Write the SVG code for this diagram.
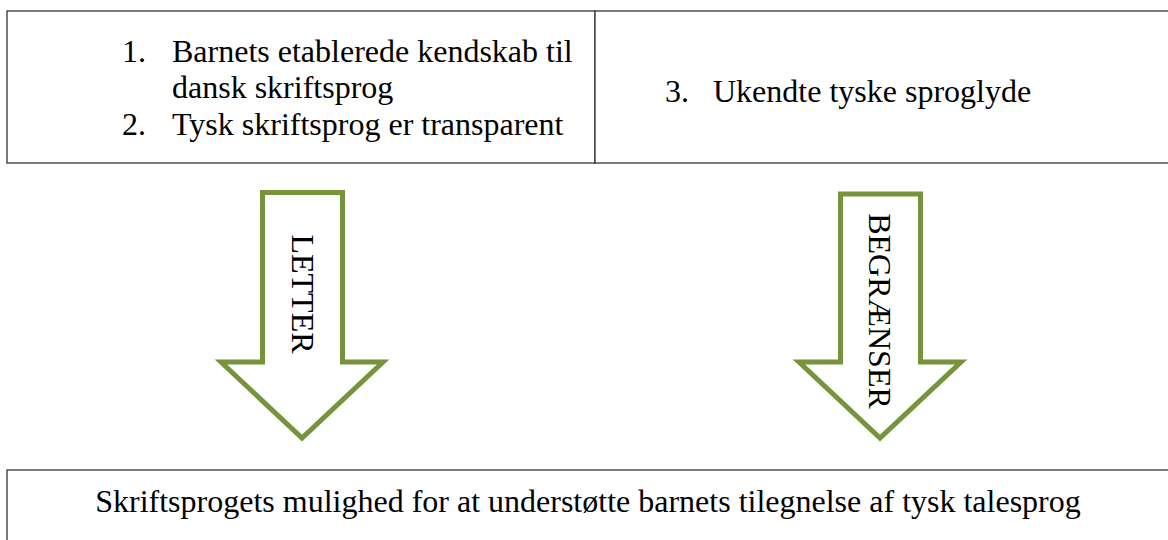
<svg xmlns="http://www.w3.org/2000/svg" width="1168" height="540" viewBox="0 0 1168 540">
<style>
.t{font-family:'Liberation Serif','DejaVu Serif',serif;font-size:32px;fill:#000}
.box{fill:#fff;stroke:#333;stroke-width:1.3}
.arrow{fill:#fff;stroke:#77933C;stroke-width:5;stroke-linejoin:miter}
</style>
<rect width="1168" height="540" fill="#fff"/>
<g id="box-left">
<rect class="box" x="7" y="11" width="588" height="152"/>
<text class="t" x="122" y="62">1.</text>
<text class="t" x="172" y="62">Barnets etablerede kendskab til</text>
<text class="t" x="172" y="98">dansk skriftsprog</text>
<text class="t" x="122" y="135">2.</text>
<text class="t" x="172" y="135">Tysk skriftsprog er transparent</text>
</g>
<g id="box-right">
<rect class="box" x="595" y="11" width="580" height="152"/>
<text class="t" x="665" y="102">3.</text>
<text class="t" x="713" y="102">Ukendte tyske sproglyde</text>
</g>
<g id="connectors">
<g id="arrow-letter">
<polygon class="arrow" points="262.5,192.5 342.5,192.5 342.5,362 383,362 302,438 221,362 262.5,362"/>
<text class="t" transform="translate(292,294) rotate(90)" text-anchor="middle">LETTER</text>
</g>
<g id="arrow-begraenser">
<polygon class="arrow" points="840.5,194 920.5,194 920.5,362 961,362 880,438 799,362 840.5,362"/>
<text class="t" transform="translate(869,311) rotate(90)" text-anchor="middle">BEGRÆNSER</text>
</g>
</g>
<g id="box-bottom">
<rect class="box" x="7" y="470" width="1170" height="80"/>
<text class="t" x="588" y="512" text-anchor="middle">Skriftsprogets mulighed for at understøtte barnets tilegnelse af tysk talesprog</text>
</g>
</svg>
